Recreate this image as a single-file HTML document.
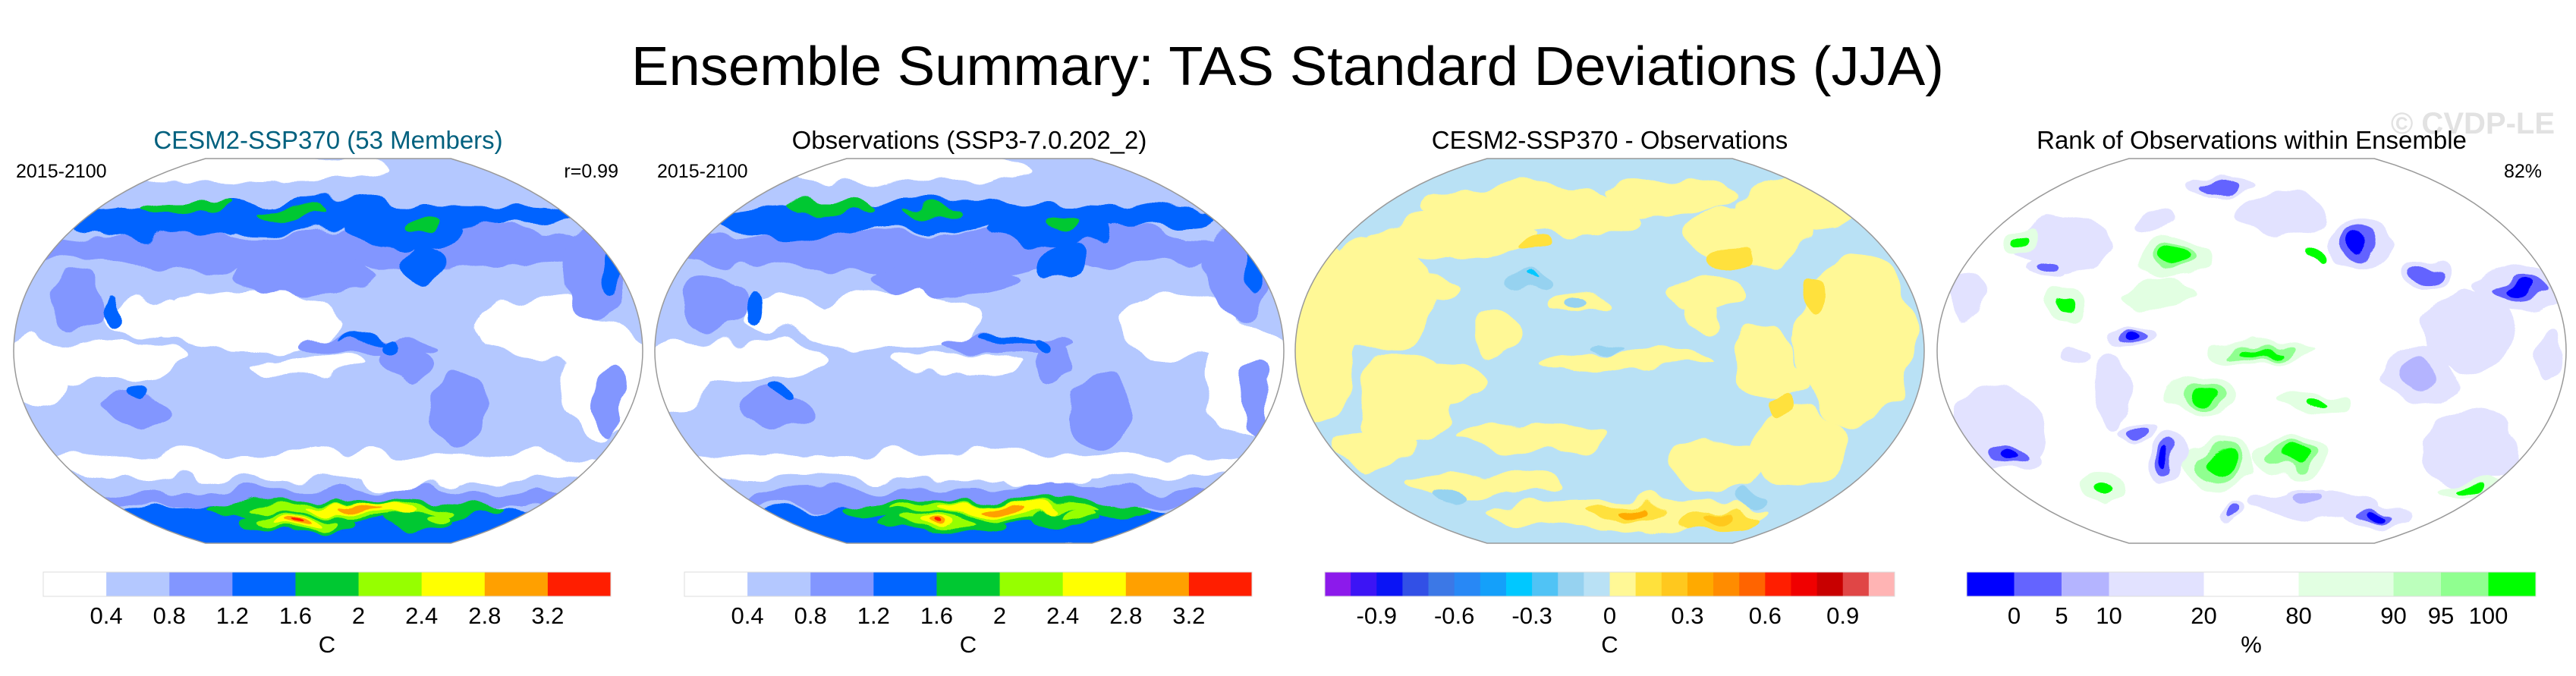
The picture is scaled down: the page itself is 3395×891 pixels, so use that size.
<!DOCTYPE html>
<html><head><meta charset="utf-8"><style>
html,body{margin:0;padding:0;background:#fff;}
svg{display:block;font-family:"Liberation Sans",Arial,sans-serif;}
</style></head><body>
<svg id="fig" width="3395" height="891" viewBox="0 0 3395 891" xmlns="http://www.w3.org/2000/svg">
<defs>
<filter id="rough" x="-5%" y="-5%" width="110%" height="110%">
<feTurbulence type="fractalNoise" baseFrequency="0.018" numOctaves="2" seed="3" result="n"/>
<feDisplacementMap in="SourceGraphic" in2="n" scale="40" xChannelSelector="R" yChannelSelector="G"/>
</filter>
</defs>
<text x="1697" y="112" font-size="72" text-anchor="middle" textLength="1730" lengthAdjust="spacingAndGlyphs">Ensemble Summary: TAS Standard Deviations (JJA)</text>
<text x="3367" y="176" font-size="40" font-weight="bold" fill="#e2e2e2" text-anchor="end">© CVDP-LE</text>
<g id="panels"></g>
</svg>
<script>
const NS="http://www.w3.org/2000/svg";
// ---- colorbar data ----
const sdLevels=["0.4","0.8","1.2","1.6","2","2.4","2.8","3.2"];
const sdColors=["#ffffff","#b4c8ff","#8296ff","#0064ff","#00c832","#96ff00","#ffff00","#ffa000","#ff1e00"];
const diffLevels=["-0.9","-0.6","-0.3","0","0.3","0.6","0.9"];
const diffLevelIdx=[2,5,8,11,14,17,20];
const diffColors=["#8c1aeb","#3c14f5","#0a14f5","#3250e6","#3c78e6","#2888f5","#14a0fa","#00c8ff","#50c3f5","#96d2f0","#b9e1f5","#fff896","#ffe13c","#ffc81e","#ffaa00","#ff8c00","#ff6400","#ff1e00","#f00000","#c80000","#e04646","#ffb4b4"];
const rankLevels=["0","5","10","20","80","90","95","100"];
const rankWidths=[1,1,1,2,2,2,1,1,1];
const rankColors=["#0000ff","#6464ff","#b4b4ff","#e2e2ff","#ffffff","#e2ffe2","#bcffbc","#90ff90","#00ff00"];
// ---- map field blobs: [u, v, ru, rv, colorIndex] in normalized map coords ----
const stdBlobs=[
[-0.2,0.95,0.4,0.08,0],
[-0.75,-0.05,0.3,0.11,0],[-0.25,0.15,0.3,0.16,0],[-0.05,-0.08,0.2,0.05,0],[0.66,0.12,0.2,0.17,0],[0.88,-0.15,0.14,0.3,0],[-0.92,-0.12,0.1,0.18,0],[0,-0.6,0.95,0.07,0],[-0.58,0.18,0.13,0.1,0],[0.25,-0.65,0.15,0.08,0],
[0,0.52,1,0.1,2],[-0.08,0.38,0.24,0.09,2],[0.12,0.02,0.22,0.05,2],[0.25,-0.07,0.07,0.1,2],[-0.6,-0.3,0.11,0.1,2],[0.42,-0.3,0.09,0.2,2],[0.9,-0.25,0.05,0.2,2],[-0.8,0.25,0.1,0.15,2],[0.85,0.4,0.1,0.25,2],[0.5,0.55,0.2,0.1,2],
[0,0.7,0.85,0.07,3],[-0.55,0.66,0.28,0.07,3],[0.25,0.62,0.2,0.08,3],[0.12,0.05,0.09,0.022,3],[0.22,0.02,0.025,0.05,3],[-0.68,0.22,0.025,0.09,3],[-0.6,-0.2,0.03,0.03,3],[0.3,0.45,0.07,0.1,3],[0.9,0.45,0.04,0.15,3],
[-0.45,0.75,0.14,0.035,4],[-0.12,0.72,0.1,0.025,4],[0.3,0.66,0.05,0.035,4],
[0,-0.77,0.95,0.05,2],[0,-0.92,0.95,0.12,3],[0.08,-0.83,0.48,0.055,4],[0.08,-0.83,0.33,0.04,5],[0.1,-0.82,0.18,0.028,6],[0.1,-0.82,0.07,0.018,7],
[-0.1,-0.9,0.2,0.055,4],[-0.1,-0.9,0.13,0.04,5],[-0.1,-0.9,0.07,0.028,6],[-0.1,-0.9,0.035,0.018,7],[-0.1,-0.9,0.015,0.01,8],[0.3,-0.88,0.11,0.05,4],[0.35,-0.86,0.05,0.03,5]
];
const diffBlobs=[
[-0.92,0.1,0.12,0.5,11],[-0.75,0.3,0.2,0.3,11],[-0.65,-0.25,0.15,0.25,11],[-0.3,0.75,0.3,0.12,11],[0.2,0.8,0.2,0.1,11],[0.6,0.75,0.2,0.15,11],[0.3,0.3,0.12,0.1,11],[0.5,-0.05,0.1,0.2,11],[-0.4,-0.7,0.25,0.06,11],[0.35,-0.6,0.15,0.15,11],[-0.35,0.1,0.08,0.12,11],
[-0.5,0.6,0.25,0.12,11],[-0.1,0.7,0.2,0.1,11],[0.45,0.6,0.2,0.15,11],[0.78,0.05,0.18,0.45,11],[-0.5,-0.15,0.12,0.1,11],[0.05,-0.05,0.25,0.05,11],[-0.25,-0.45,0.25,0.07,11],[0.6,-0.5,0.15,0.2,11],[0.05,-0.85,0.45,0.08,11],[-0.6,0.35,0.12,0.08,11],[-0.75,-0.5,0.12,0.1,11],[0.3,0.18,0.06,0.08,11],[-0.1,0.25,0.1,0.05,11],[0.55,-0.15,0.08,0.1,11],
[0.05,-0.83,0.13,0.035,12],[0.35,-0.88,0.13,0.05,12],[0.08,-0.83,0.05,0.018,14],[0.35,-0.86,0.05,0.025,13],[-0.25,0.55,0.05,0.04,12],[0.38,0.48,0.05,0.05,12],[0.65,0.3,0.04,0.07,12],[0.55,-0.3,0.04,0.06,12],
[-0.25,0.35,0.07,0.05,9],[-0.1,0.25,0.04,0.03,9],[0.0,0.02,0.05,0.018,9],[-0.5,-0.75,0.05,0.04,9],[0.45,-0.77,0.05,0.04,9],[-0.25,0.37,0.015,0.015,7]
];
const rankBlobs=[
[-0.8,-0.4,0.15,0.2,3],[0.7,-0.5,0.15,0.2,3],[0.7,0.1,0.15,0.2,3],[-0.6,0.55,0.15,0.15,3],[-0.45,-0.2,0.06,0.2,3],[0.1,0.7,0.15,0.1,3],[0.2,-0.8,0.2,0.08,3],
[-0.24,0.48,0.12,0.12,5],[0.03,0.0,0.17,0.05,5],[-0.16,-0.23,0.11,0.1,5],[-0.1,-0.58,0.12,0.12,5],[0.13,-0.54,0.11,0.1,5],[0.2,-0.28,0.1,0.05,5],[-0.6,0.24,0.07,0.08,5],[-0.73,0.58,0.06,0.07,5],[0.7,-0.72,0.12,0.04,5],[-0.47,-0.72,0.06,0.08,5],[-0.3,0.3,0.12,0.06,5],
[-0.24,0.48,0.07,0.08,7],[0.03,0.0,0.1,0.03,7],[-0.16,-0.23,0.07,0.07,7],[-0.1,-0.58,0.08,0.09,7],[0.13,-0.54,0.07,0.07,7],
[-0.24,0.48,0.05,0.06,8],[0.03,0.0,0.05,0.015,8],[-0.16,-0.23,0.04,0.05,8],[-0.1,-0.58,0.06,0.06,8],[0.13,-0.54,0.05,0.05,8],[0.2,-0.28,0.03,0.02,8],[-0.6,0.24,0.025,0.04,8],[-0.73,0.58,0.025,0.03,8],[0.7,-0.72,0.04,0.02,8],[-0.47,-0.72,0.02,0.03,8],[0.21,0.5,0.02,0.03,8],
[0.34,0.56,0.1,0.12,3],[0.55,0.41,0.08,0.08,3],[0.85,0.32,0.14,0.1,3],[-0.38,0.08,0.08,0.06,3],[-0.56,-0.02,0.05,0.05,3],[-0.27,-0.58,0.06,0.12,3],[-0.77,-0.54,0.1,0.08,3],[-0.37,-0.43,0.07,0.05,3],[0.4,-0.86,0.12,0.06,3],[-0.06,-0.82,0.05,0.05,3],[-0.1,0.86,0.1,0.06,3],[-0.66,0.42,0.07,0.06,3],[0.53,-0.12,0.12,0.15,3],[0.18,-0.74,0.08,0.05,3],[-0.9,0.3,0.05,0.12,3],[-0.3,0.68,0.06,0.05,3],[0.95,0.0,0.04,0.12,3],
[0.34,0.56,0.06,0.08,1],[0.55,0.41,0.05,0.05,1],[0.85,0.32,0.08,0.05,1],[-0.38,0.08,0.05,0.04,1],[-0.27,-0.58,0.03,0.08,1],[-0.77,-0.54,0.06,0.05,1],[-0.37,-0.43,0.04,0.03,1],[0.4,-0.86,0.07,0.03,1],[-0.06,-0.82,0.03,0.03,1],[-0.1,0.86,0.06,0.04,1],[-0.66,0.42,0.04,0.03,1],[0.53,-0.12,0.06,0.08,2],[0.18,-0.74,0.05,0.03,2],
[0.34,0.56,0.03,0.05,0],[0.85,0.32,0.04,0.03,0],[-0.38,0.08,0.025,0.025,0],[-0.27,-0.58,0.015,0.05,0],[-0.77,-0.54,0.03,0.03,0],[0.4,-0.86,0.04,0.02,0]
];
const panels=[
 {name:"cesm2-ensemble",left:18,title:"CESM2-SSP370 (53 Members)",color:"#00607e",leftLabel:"2015-2100",rightLabel:"r=0.99",base:1,colors:sdColors,blobs:stdBlobs},
 {name:"observations",left:863,title:"Observations (SSP3-7.0.202_2)",color:"#000",leftLabel:"2015-2100",rightLabel:"",base:1,colors:sdColors,blobs:stdBlobs},
 {name:"difference",left:1707,title:"CESM2-SSP370 - Observations",color:"#000",leftLabel:"",rightLabel:"",base:10,colors:diffColors,blobs:diffBlobs},
 {name:"rank",left:2553,title:"Rank of Observations within Ensemble",color:"#000",leftLabel:"",rightLabel:"82%",base:4,colors:rankColors,blobs:rankBlobs}
];
const MW=829,MT=209,MH=507;
const root=document.getElementById("panels");
function el(tag,attrs,parent){const e=document.createElementNS(NS,tag);for(const k in attrs)e.setAttribute(k,attrs[k]);parent.appendChild(e);return e;}
function outlinePath(L,T,W,H){
  const cx=L+W/2,cy=T+H/2,pts=[];const f=1-0.39*0.39;
  for(let i=0;i<=60;i++){const v=1-2*i/60;pts.push([cx+W/2*Math.sqrt(1-v*v*f),cy-v*H/2]);}
  for(let i=60;i>=0;i--){const v=1-2*i/60;pts.push([cx-W/2*Math.sqrt(1-v*v*f),cy-v*H/2]);}
  return "M"+pts.map(p=>p[0].toFixed(1)+","+p[1].toFixed(1)).join(" L")+" Z";
}
panels.forEach((p,pi)=>{
  const g=el("g",{},root);
  
  
  const L=p.left,W=MW,T=MT,H=MH,cx=L+W/2,cy=T+H/2;
  const xs=u=>cx+u*W/2, ys=v=>cy-v*H/2;
  const outline=outlinePath(L,T,W,H);
  const defs=el("defs",{},g);
  const cp=el("clipPath",{id:"clip"+pi},defs);
  el("path",{d:outline},cp);
  const clipG=el("g",{"clip-path":`url(#clip${pi})`},g);
  el("rect",{x:L,y:T,width:W,height:H,fill:p.colors[p.base]},clipG);
  const field=el("g",{filter:"url(#rough)"},clipG);
  
  
  p.blobs.forEach(b=>{
    const e=el("ellipse",{cx:xs(b[0]),cy:ys(b[1]),rx:b[2]*W/2,ry:b[3]*H/2,fill:p.colors[b[4]]},field);
    
    
  });
  const o=el("path",{d:outline,fill:"none",stroke:"#999","stroke-width":1.5},g);
  
  
  const t=el("text",{x:cx,y:196,"font-size":33,"text-anchor":"middle",fill:p.color},g);t.textContent=p.title;
  
  
  if(p.leftLabel){const a=el("text",{x:L+3,y:234,"font-size":25},g);a.textContent=p.leftLabel;
    
    }
  if(p.rightLabel){const a=el("text",{x:L+W-32,y:234,"font-size":25,"text-anchor":"end"},g);a.textContent=p.rightLabel;
    
    }
});
// ---- colorbars ----
function colorbar(name,x0,width,colors,weights,labels,labelIdx,unit){
  const g=el("g",{},root);
  
  
  const tot=weights.reduce((a,b)=>a+b,0);
  const bx=i=>x0+width*weights.slice(0,i).reduce((a,b)=>a+b,0)/tot;
  colors.forEach((c,i)=>{
    const r=el("rect",{x:bx(i),y:754,width:bx(i+1)-bx(i)+0.5,height:32,fill:c},g);
    
    
  });
  el("rect",{x:x0,y:754,width:width,height:32,fill:"none",stroke:"#ddd","stroke-width":1},g);
  labels.forEach((s,i)=>{
    const t=el("text",{x:bx(labelIdx[i]),y:822,"font-size":31,"text-anchor":"middle"},g);t.textContent=s;
    
    
  });
  const u=el("text",{x:x0+width/2,y:860,"font-size":31,"text-anchor":"middle"},g);u.textContent=unit;
  
  
}
const ones=n=>Array(n).fill(1);
colorbar("sd-colorbar-1",57,748,sdColors,ones(9),sdLevels,[1,2,3,4,5,6,7,8],"C");
colorbar("sd-colorbar-2",902,748,sdColors,ones(9),sdLevels,[1,2,3,4,5,6,7,8],"C");
colorbar("diff-colorbar",1746,751,diffColors,ones(22),diffLevels,diffLevelIdx,"C");
colorbar("rank-colorbar",2592,750,rankColors,rankWidths,rankLevels,[1,2,3,4,5,6,7,8],"%");
</script>
</body></html>
